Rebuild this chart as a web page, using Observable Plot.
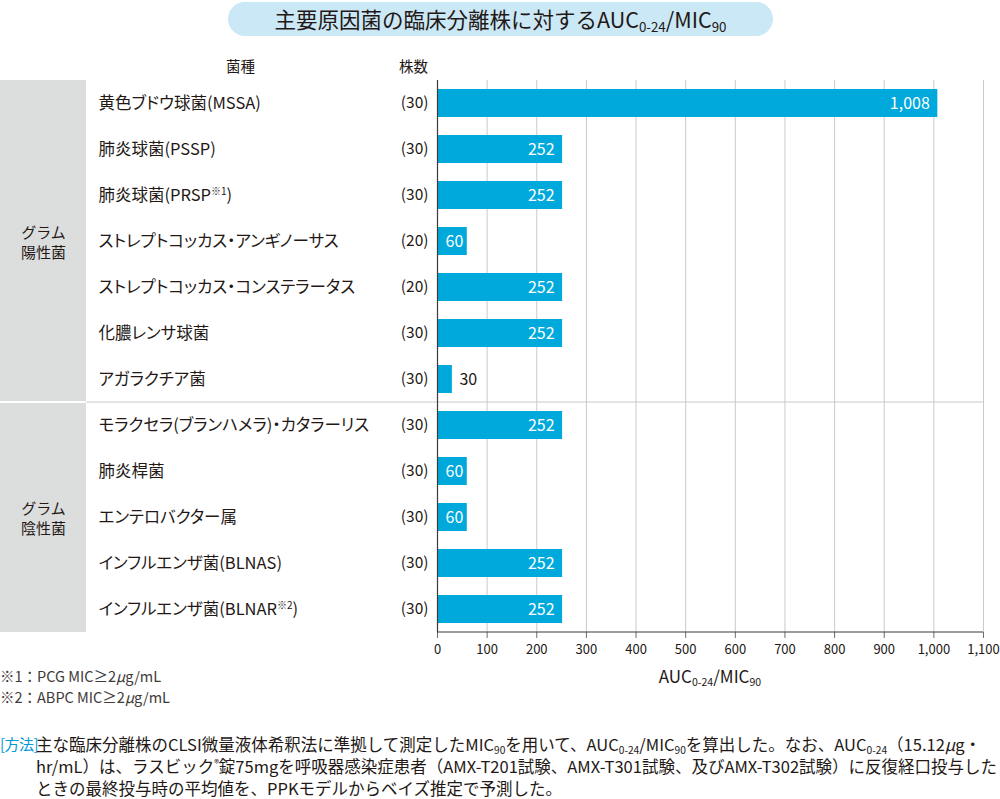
<!DOCTYPE html>
<html><head><meta charset="utf-8">
<script src="https://cdn.jsdelivr.net/npm/d3@7"></script>
<script src="https://cdn.jsdelivr.net/npm/@observablehq/plot@0.6"></script>
<style>
body{margin:0;background:#fff;font-family:"Noto Sans CJK JP","Noto Sans",sans-serif;color:#231815;}
#wrap{position:relative;width:1000px;height:799px;overflow:hidden}
.abs{position:absolute}
#title{left:228px;top:2px;width:545px;height:34px;border-radius:17px;background:#cbe8f6;text-align:center;font-size:21.5px;white-space:nowrap;line-height:34px}
.sub{font-size:0.62em;position:relative;top:0.28em;line-height:0}
.sup{font-size:0.6em;position:relative;top:-0.6em;line-height:0}
#chart{left:0;top:0}
#xlabel{left:560px;width:300px;top:664px;text-align:center;font-size:17px;white-space:nowrap;line-height:24px}
.fn{left:0;font-size:14.5px;color:#3e3a39;white-space:nowrap;line-height:20px}
#method{left:0;top:733px;width:1000px;display:flex;font-size:16.5px;line-height:22px}
#method .lab{color:#0099d9;width:36px;flex:none;white-space:nowrap;font-size:15px;letter-spacing:-0.5px}
#method .body{white-space:nowrap}
#method .body div{height:22px}
</style></head>
<body>
<div id="wrap">
  <div id="chart" class="abs"></div>
  <div id="title" class="abs">主要原因菌の臨床分離株に対するAUC<span class="sub">0-24</span>/MIC<span class="sub">90</span></div>
  <div id="xlabel" class="abs">AUC<span class="sub">0-24</span>/MIC<span class="sub">90</span></div>
  <div class="abs fn" style="top:666px">※1：PCG MIC≥2<i>μ</i>g/mL</div>
  <div class="abs fn" style="top:687px">※2：ABPC MIC≥2<i>μ</i>g/mL</div>
  <div id="method" class="abs"><div class="lab">[方法]</div><div class="body"><div>主な臨床分離株のCLSI微量液体希釈法に準拠して測定したMIC<span class="sub">90</span>を用いて、AUC<span class="sub">0-24</span>/MIC<span class="sub">90</span>を算出した。なお、AUC<span class="sub">0-24</span>（15.12<i>μ</i>g・</div><div>hr/mL）は、ラスビック<span class="sup">®</span>錠75mgを呼吸器感染症患者（AMX-T201試験、AMX-T301試験、及びAMX-T302試験）に反復経口投与した</div><div>ときの最終投与時の平均値を、PPKモデルからベイズ推定で予測した。</div></div></div>
</div>
<script>
const species = ["黄色ブドウ球菌(MSSA)", "肺炎球菌(PSSP)", "肺炎球菌(PRSP※1)", "ストレプトコッカス・アンギノーサス", "ストレプトコッカス・コンステラータス", "化膿レンサ球菌", "アガラクチア菌", "モラクセラ(ブランハメラ)・カタラーリス", "肺炎桿菌", "エンテロバクター属", "インフルエンザ菌(BLNAS)", "インフルエンザ菌(BLNAR※2)"];
const counts = [30, 30, 30, 20, 20, 30, 30, 30, 30, 30, 30, 30];
const values = [1008, 252, 252, 60, 252, 252, 30, 252, 60, 60, 252, 252];
const groups = ["グラム陽性菌", "グラム陽性菌", "グラム陽性菌", "グラム陽性菌", "グラム陽性菌", "グラム陽性菌", "グラム陽性菌", "グラム陰性菌", "グラム陰性菌", "グラム陰性菌", "グラム陰性菌", "グラム陰性菌"];
const groupLabels = ["グラム\n陽性菌", "グラム\n陰性菌"];
const xTicks = [0, 100, 200, 300, 400, 500, 600, 700, 800, 900, 1000, 1100];
const headers = ["菌種", "株数"];

const rows = species.map((s, i) => ({species: s, count: counts[i], value: values[i], group: groups[i]}));
const groupNames = [...new Set(groups)];
const groupRows = groupNames.map((g, k) => {
  const members = rows.filter(r => r.group === g);
  return {label: groupLabels[k], row: members[Math.floor(members.length / 2)].species, first: members[0].species, last: members[members.length - 1].species};
});
const fmt = d3.format(",");
const FONT = '"Noto Sans CJK JP","Noto Sans",sans-serif';

const plot = Plot.plot({
  width: 1000, height: 690,
  marginTop: 80, marginBottom: 58, marginLeft: 437, marginRight: 17,
  style: {fontFamily: FONT, fontSize: "14px", color: "#231815", background: "transparent", overflow: "visible"},
  x: {domain: [0, 1100], ticks: xTicks, tickFormat: fmt, label: null},
  y: {domain: species, paddingInner: 0.39, paddingOuter: 0.195, axis: null},
  marks: [
    Plot.gridX(xTicks.filter(d => d > 0), {stroke: "#c9caca", strokeOpacity: 1}),
    Plot.barX(rows, {x: "value", y: "species", fill: "#00a9dc"}),
    Plot.ruleX([0], {stroke: "#3e3a39", strokeWidth: 1.2}),
    Plot.axisX({ticks: xTicks, tickFormat: fmt, tickSize: 6, tickPadding: 6, fontSize: 13, stroke: "#6f6c6c", fill: "#231815", label: null}),
    Plot.text(rows.filter(d => d.value >= 100), {x: "value", y: "species", text: d => fmt(d.value), textAnchor: "end", dx: -8, fill: "white", fontSize: 16}),
    Plot.text(rows.filter(d => d.value >= 50 && d.value < 100), {x: "value", y: "species", text: d => fmt(d.value), textAnchor: "end", dx: -4, fill: "white", fontSize: 16}),
    Plot.text(rows.filter(d => d.value < 50), {x: "value", y: "species", text: d => fmt(d.value), textAnchor: "start", dx: 7, fill: "#231815", fontSize: 16}),
    Plot.text(rows, {y: "species", text: "species", frameAnchor: "left", dx: -339, textAnchor: "start", fontSize: 16.5, fill: "#231815"}),
    Plot.text(rows, {y: "species", text: d => `(${d.count})`, frameAnchor: "left", dx: -9, textAnchor: "end", fontSize: 15.5, fill: "#231815"}),
    Plot.text([headers[0]], {text: d => d, frameAnchor: "top-left", lineAnchor: "middle", dx: 240 - 437, dy: -13, textAnchor: "middle", fontSize: 14.5, fill: "#231815"}),
    Plot.text([headers[1]], {text: d => d, frameAnchor: "top-left", lineAnchor: "middle", dx: 413 - 437, dy: -13, textAnchor: "middle", fontSize: 14.5, fill: "#231815"}),
    Plot.text(groupRows, {y: "row", text: "label", frameAnchor: "left", dx: 43 - 437, textAnchor: "middle", fontSize: 15, lineHeight: 1.3, fill: "#231815"})
  ]
});

document.getElementById("chart").appendChild(plot);

const ys = plot.scale("y"), xs = plot.scale("x");
const gap = (ys.step - ys.bandwidth) / 2;
const bandTop = v => ys.apply(v) - gap;
const bandBot = v => ys.apply(v) + ys.bandwidth + gap;
const svg = d3.select(plot);
const bg = svg.insert("g", ":first-child");
groupRows.forEach((g, k) => {
  const y0 = bandTop(g.first) + (k > 0 ? 1 : 0), y1 = bandBot(g.last) - (k < groupRows.length - 1 ? 1 : 0);
  bg.append("rect").attr("x", 0).attr("width", 86).attr("y", y0).attr("height", y1 - y0).attr("fill", "#dcdddd");
  if (k > 0) {
    bg.append("line").attr("x1", 86).attr("x2", xs.apply(1100)).attr("y1", bandTop(g.first)).attr("y2", bandTop(g.first)).attr("stroke", "#c9caca");
  }
});
const yBottom = bandBot(species[species.length - 1]);
svg.append("line").attr("x1", xs.apply(0)).attr("x2", xs.apply(1100)).attr("y1", yBottom).attr("y2", yBottom).attr("stroke", "#3e3a39").attr("stroke-width", 1.2);

const speciesSet = new Set(species);
svg.selectAll("text").each(function() {
  const t = this.textContent;
  if (speciesSet.has(t)) this.style.fontFeatureSettings = '"palt"';
  const m = t.match(/^(.*)(※\d)(\))$/);
  if (m && this.childElementCount === 0) {
    const el = d3.select(this);
    el.text(null);
    el.append("tspan").text(m[1]);
    el.append("tspan").attr("font-size", 10).attr("dy", -6).text(m[2]);
    el.append("tspan").attr("dy", 6).text(m[3]);
  }
});
</script>
</body></html>
